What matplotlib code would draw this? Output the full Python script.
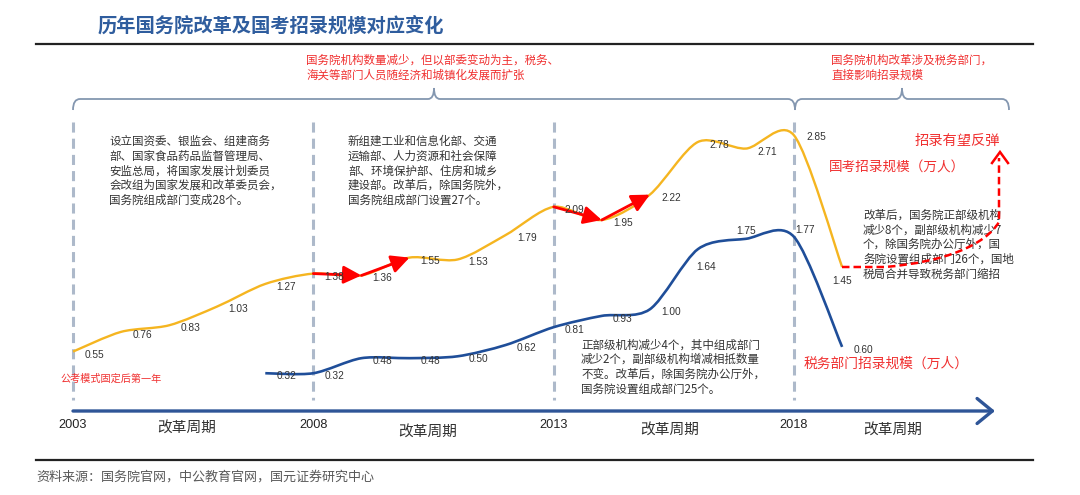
import numpy as np
import matplotlib
matplotlib.use('Agg')
import matplotlib.pyplot as plt
import matplotlib.transforms as mtransforms
from matplotlib.path import Path
from matplotlib.patches import PathPatch

plt.rcParams['font.family'] = ['Noto Sans CJK SC', 'DejaVu Sans']

# ---- data ----
exam_years = list(range(2003, 2020))
exam_scale = [0.55, 0.76, 0.83, 1.03, 1.27, 1.38, 1.36, 1.55, 1.53, 1.79,
              2.09, 1.95, 2.22, 2.78, 2.71, 2.85, 1.45]
tax_years = list(range(2007, 2020))
tax_scale = [0.32, 0.32, 0.48, 0.48, 0.50, 0.62, 0.81, 0.93, 1.00,
             1.64, 1.75, 1.77, 0.60]
reform_years = [2003, 2008, 2013, 2018]
cycle_label = '改革周期'
# red arrows along the exam line: (from year, to year)
arrow_pairs = [(2008, 2009), (2009, 2010), (2013, 2014), (2014, 2015)]

title = '历年国务院改革及国考招录规模对应变化'
source = '资料来源：国务院官网，中公教育官网，国元证券研究中心'
note_top1 = '国务院机构数量减少，但以部委变动为主，税务、\n海关等部门人员随经济和城镇化发展而扩张'
note_top2 = '国务院机构改革涉及税务部门，\n直接影响招录规模'
block_2003 = ('设立国资委、银监会、组建商务\n部、国家食品药品监督管理局、\n'
              '安监总局，将国家发展计划委员\n会改组为国家发展和改革委员会，\n'
              '国务院组成部门变成28个。')
block_2008 = ('新组建工业和信息化部、交通\n运输部、人力资源和社会保障\n'
              '部、环境保护部、住房和城乡\n建设部。改革后，除国务院外，\n'
              '国务院组成部门设置27个。')
block_2013 = ('正部级机构减少4个，其中组成部门\n减少2个，副部级机构增减相抵数量\n'
              '不变。改革后，除国务院办公厅外，\n国务院设置组成部门25个。')
block_2018 = ('改革后，国务院正部级机构\n减少8个，副部级机构减少7\n'
              '个，除国务院办公厅外，国\n务院设置组成部门26个，国地\n'
              '税局合并导致税务部门缩招')

W, H = 1080, 495
fig = plt.figure(figsize=(W / 100, H / 100), dpi=100)
ax = fig.add_axes([0, 0, 1, 1])
ax.axis('off')
# year -> pixel: 2003 at x=73, 48.07 px per year; value -> pixel: 0.55 at y=351.6, 94 px per unit
ax.set_xlim(2003 - 73 / 48.07, 2003 + (W - 73) / 48.07)
ax.set_ylim(0.55 - (H - 351.6) / 94, 0.55 + 351.6 / 94)

# pixel transform (origin top-left) for decorations
pix = mtransforms.Affine2D().scale(1 / W, -1 / H).translate(0, 1) + fig.transFigure
bt = mtransforms.blended_transform_factory(ax.transData, pix)

YELLOW = '#f5b520'
BLUE = '#1f4e99'
RED = '#ff0000'
RED_TXT = '#f03030'
TXT = '#333333'


def smooth_path(xs, ys, k=7.0):
    p = np.column_stack([xs, ys]).astype(float)
    verts, codes = [p[0]], [Path.MOVETO]
    n = len(p)
    for i in range(n - 1):
        p0 = p[max(i - 1, 0)]
        p1, p2 = p[i], p[i + 1]
        p3 = p[min(i + 2, n - 1)]
        verts += [p1 + (p2 - p0) / k, p2 - (p3 - p1) / k, p2]
        codes += [Path.CURVE4] * 3
    return Path(verts, codes)


# rules and title
ax.plot([36, 1033], [43.7, 43.7], color='#222222', lw=1.6, transform=pix)
ax.plot([36, 1033], [460, 460], color='#222222', lw=1.6, transform=pix)
ax.text(98, 26, title, transform=pix, fontsize=13.9, fontweight='bold',
        color='#2f5d9e', ha='left', va='center')
ax.text(36, 477, source, transform=pix, fontsize=9.4, color='#595959',
        ha='left', va='center')

# braces
brace_col = '#8497b0'
for x0, tip, x1 in [(73, 434, 795), (795, 902, 1009)]:
    verts = [(x0, 110), (x0, 99), (x0 + 7, 99), (tip - 6, 99), (tip, 99), (tip, 88),
             (tip, 99), (tip + 6, 99), (x1 - 7, 99), (x1, 99), (x1, 110)]
    codes = [Path.MOVETO, Path.CURVE3, Path.CURVE3, Path.LINETO, Path.CURVE3, Path.CURVE3,
             Path.CURVE3, Path.CURVE3, Path.LINETO, Path.CURVE3, Path.CURVE3]
    ax.add_patch(PathPatch(Path(verts, codes), fill=False, edgecolor=brace_col,
                           lw=1.3, transform=pix))

ax.text(306, 68, note_top1, transform=pix, fontsize=8.3, color=RED_TXT,
        ha='left', va='center', linespacing=1.2)
ax.text(831, 68, note_top2, transform=pix, fontsize=8.3, color=RED_TXT,
        ha='left', va='center', linespacing=1.2)

# reform dashed separators
for yr in reform_years:
    ax.plot([yr, yr], [122, 400], transform=bt, color='#adb9ca', lw=2.2,
            ls=(0, (3.3, 2.0)), solid_capstyle='butt')

# time axis
ax.annotate('', xy=(995, 411), xytext=(73, 411), xycoords=pix, textcoords=pix,
            arrowprops=dict(arrowstyle='->,head_length=0.55,head_width=0.45',
                            lw=2.4, color='#2f5597', mutation_scale=20,
                            shrinkA=0, shrinkB=0))
for yr in reform_years:
    ax.text(yr, 425, str(yr), transform=bt, fontsize=9.2, family='Liberation Sans',
            color='#222222', ha='center', va='center')
for cx, cy in [(187, 428), (428, 432), (670, 430), (893, 430)]:
    ax.text(cx, cy, cycle_label, transform=pix, fontsize=10.6, color=TXT,
            ha='center', va='center')

# lines
ax.add_patch(PathPatch(smooth_path(exam_years, exam_scale), fill=False,
                       edgecolor=YELLOW, lw=1.7, zorder=3))
ax.add_patch(PathPatch(smooth_path(tax_years, tax_scale), fill=False,
                       edgecolor=BLUE, lw=1.9, zorder=3))

# red arrows
exam_lookup = dict(zip(exam_years, exam_scale))
for a, b in arrow_pairs:
    ax.annotate('', xy=(b, exam_lookup[b]), xytext=(a, exam_lookup[a]),
                arrowprops=dict(arrowstyle='-|>,head_length=0.9,head_width=0.45',
                                color=RED, lw=2.0, mutation_scale=12,
                                shrinkA=0, shrinkB=0), zorder=4)

# data labels (offsets in pixels)
default_off = (21, -3)
exam_off = {2018: (22, -2), 2019: (0, -14)}
tax_off = {2016: (8, -18), 2017: (0, 8), 2018: (11, 7)}
for yrs, vals, offs in [(exam_years, exam_scale, exam_off), (tax_years, tax_scale, tax_off)]:
    for x, v in zip(yrs, vals):
        dx, dy = offs.get(x, default_off)
        ax.annotate(f'{v:.2f}', (x, v), xytext=(dx, dy), textcoords='offset pixels',
                    fontsize=7.3, family='Liberation Sans', color='#333333',
                    ha='center', va='center', zorder=5)

# projected rebound (dashed red)
proj = Path([(842, 267), (885, 267), (945, 262), (985, 245), (999, 222), (999, 158)],
            [Path.MOVETO, Path.LINETO, Path.CURVE4, Path.CURVE4, Path.CURVE4, Path.LINETO])
ax.add_patch(PathPatch(proj, fill=False, edgecolor=RED, lw=1.8,
                       ls=(0, (3, 1.6)), transform=pix, zorder=4))
ax.plot([992, 1000, 1008], [163, 152, 163], color=RED, lw=1.8, transform=pix,
        solid_joinstyle='miter', zorder=4)

# red labels
ax.text(915, 141, '招录有望反弹', transform=pix, fontsize=10.3, color=RED_TXT,
        ha='left', va='center')
ax.text(829, 168, '国考招录规模（万人）', transform=pix, fontsize=9.8, color=RED_TXT,
        ha='left', va='center')
ax.text(804, 364, '税务部门招录规模（万人）', transform=pix, fontsize=9.9, color=RED_TXT,
        ha='left', va='center')
ax.text(60, 378.5, '公考模式固定后第一年', transform=pix, fontsize=7.3, color=RED_TXT,
        ha='left', va='center')

# reform description blocks
for (bx, by), txt in [((109.5, 171), block_2003), ((348, 171), block_2008),
                      ((581, 367), block_2013), ((863, 244.5), block_2018)]:
    ax.text(bx, by, txt, transform=pix, fontsize=8.3, color=TXT,
            ha='left', va='center', linespacing=1.17, zorder=2)

fig.savefig('out.png', dpi=100)
